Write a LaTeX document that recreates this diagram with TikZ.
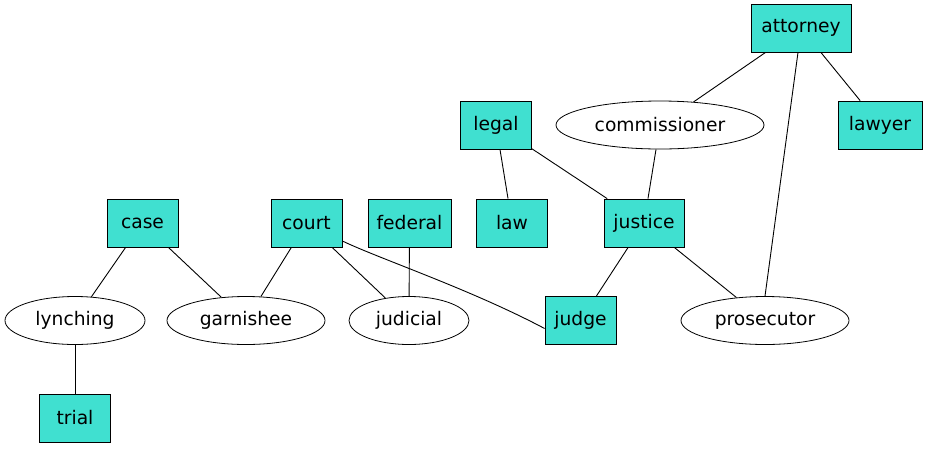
\documentclass[tikz,border=0pt]{standalone}
\usepackage{fontspec}
\setmainfont{DejaVu Sans}
\usetikzlibrary{shapes.geometric}
\definecolor{turq}{HTML}{40E0D0}
\tikzset{
  boxnode/.style={draw=black, fill=turq, rectangle, inner sep=0pt, line width=0.8pt, font=\fontsize{18.7}{22}\selectfont},
  ellnode/.style={draw=black, fill=white, ellipse, inner sep=0pt, line width=0.8pt, font=\fontsize{18.7}{22}\selectfont},
  edge/.style={draw=black, line width=0.9pt}
}
\begin{document}
\begin{tikzpicture}[x=1pt,y=-1pt]
\useasboundingbox (0,0) rectangle (929,448);
% boxes
\node[boxnode, minimum width=100pt, minimum height=48pt] (attorney) at (801,28) {attorney};
\node[boxnode, minimum width=84pt, minimum height=48pt] (lawyer) at (880,125) {lawyer};
\node[boxnode, minimum width=71pt, minimum height=48pt] (legal) at (496,125) {legal};
\node[boxnode, minimum width=71pt, minimum height=48pt] (case) at (142.5,223) {case};
\node[boxnode, minimum width=71pt, minimum height=48pt] (court) at (306.5,223) {court};
\node[boxnode, minimum width=83pt, minimum height=48pt] (federal) at (409.5,223) {federal};
\node[boxnode, minimum width=71pt, minimum height=48pt] (law) at (512,223) {law};
\node[boxnode, minimum width=80pt, minimum height=48pt] (justice) at (644,223) {justice};
\node[boxnode, minimum width=71pt, minimum height=48pt] (judge) at (580.5,320.5) {judge};
\node[boxnode, minimum width=71pt, minimum height=48pt] (trial) at (75,418) {trial};
% ellipses
\node[ellnode, minimum width=208pt, minimum height=48pt] (commissioner) at (660,125) {commissioner};
\node[ellnode, minimum width=140pt, minimum height=48pt] (lynching) at (75,320.5) {lynching};
\node[ellnode, minimum width=158pt, minimum height=48pt] (garnishee) at (246,320.5) {garnishee};
\node[ellnode, minimum width=120pt, minimum height=48pt] (judicial) at (409,320.5) {judicial};
\node[ellnode, minimum width=168pt, minimum height=48pt] (prosecutor) at (765,320.5) {prosecutor};
% edges
\draw[edge] (attorney) -- (commissioner);
\draw[edge] (attorney) -- (lawyer);
\draw[edge] (attorney.south) ++(-3,0) coordinate (aps) (aps) -- (prosecutor.north);
\draw[edge] (legal) -- (law);
\draw[edge] (legal) -- (justice);
\draw[edge] (commissioner) -- (justice);
\draw[edge] (case) -- (lynching);
\draw[edge] (case) -- (garnishee);
\draw[edge] (court) -- (garnishee);
\draw[edge] (court) -- (judicial);
\draw[edge] (court.east) ++(0,18) coordinate (cj) (cj) .. controls (380,259) and (470,289) .. ([yshift=-8pt]judge.west);
\draw[edge] (federal) -- (judicial);
\draw[edge] (justice) -- (judge);
\draw[edge] (justice) -- (prosecutor);
\draw[edge] (lynching) -- (trial);
\end{tikzpicture}
\end{document}
